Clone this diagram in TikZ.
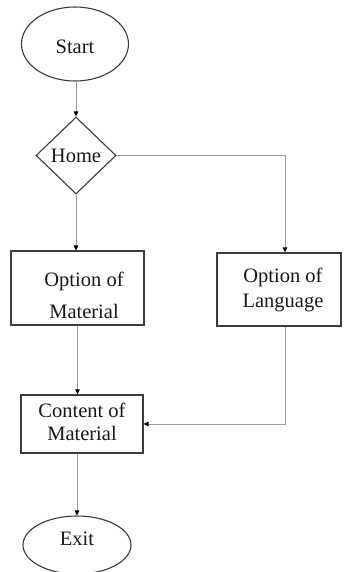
\documentclass[tikz,border=0pt]{standalone}
\usepackage{fontspec}
\setmainfont{Liberation Serif}
\usetikzlibrary{shapes.geometric,arrows.meta}
\definecolor{edgegray}{HTML}{9C9C9C}
\definecolor{framegray}{HTML}{3C3C3C}
\begin{document}
\begin{tikzpicture}[x=1pt,y=-1pt,
  every node/.style={font=\fontsize{20.5}{25}\selectfont, inner sep=0pt, text=black!90},
  terminal/.style={ellipse, draw=framegray, line width=1.1pt, minimum width=107pt, minimum height=74pt},
  decision/.style={diamond, draw=framegray, line width=1.1pt, minimum width=80pt, minimum height=77pt},
  process/.style={rectangle, draw=framegray, line width=1.1pt, align=center},
  flow/.style={draw=edgegray, line width=0.9pt, -{Triangle[length=5pt,width=4.5pt,color=black]}},
]
  % canvas
  \fill[white] (0,0) rectangle (343,572);
  \useasboundingbox (0,0) rectangle (343,572);

  % nodes
  \node[terminal] (start) at (75,44) {\raisebox{-3pt}[\height][\depth]{Start}};
  \node[decision] (home) at (76,155.5) {Home};
  \node[process, minimum width=133pt, minimum height=74pt] (matopt) at (77.5,288) {};
  \node[align=center, font=\fontsize{20.5}{25}\selectfont] (matopt-text) at (84,295) {Option of\\[7pt]Material};
  \node[process, minimum width=124pt, minimum height=73pt] (langopt) at (279,289.5) {\hspace{8pt}Option of\\\hspace{8pt}Language};
  \node[process, minimum width=122pt, minimum height=58pt, font=\fontsize{20.5}{23.5}\selectfont] (content) at (82,424) {\raisebox{2pt}[\height][\depth]{Content of}\\\raisebox{2pt}[\height][\depth]{Material}};
  \node[terminal, minimum width=108pt, minimum height=58pt] (exit) at (77,545) {\raisebox{6pt}[\height][\depth]{Exit}};

  % connector bend points
  \coordinate (langin)  at ([xshift=6pt]langopt.north);
  \coordinate (langout) at ([xshift=6pt]langopt.south);

  % connectors
  \draw[flow] (start.south -| home.north) -- (home.north);
  \draw[flow] (home.south) -- (home.south |- matopt.north);
  \draw[flow] (home.east) -| (langin);
  \draw[flow] (matopt.south) -- (matopt.south |- content.north);
  \draw[flow] (langout) |- (content.east);
  \draw[flow] (content.south -| exit.north) -- (exit.north);
\end{tikzpicture}
\end{document}
